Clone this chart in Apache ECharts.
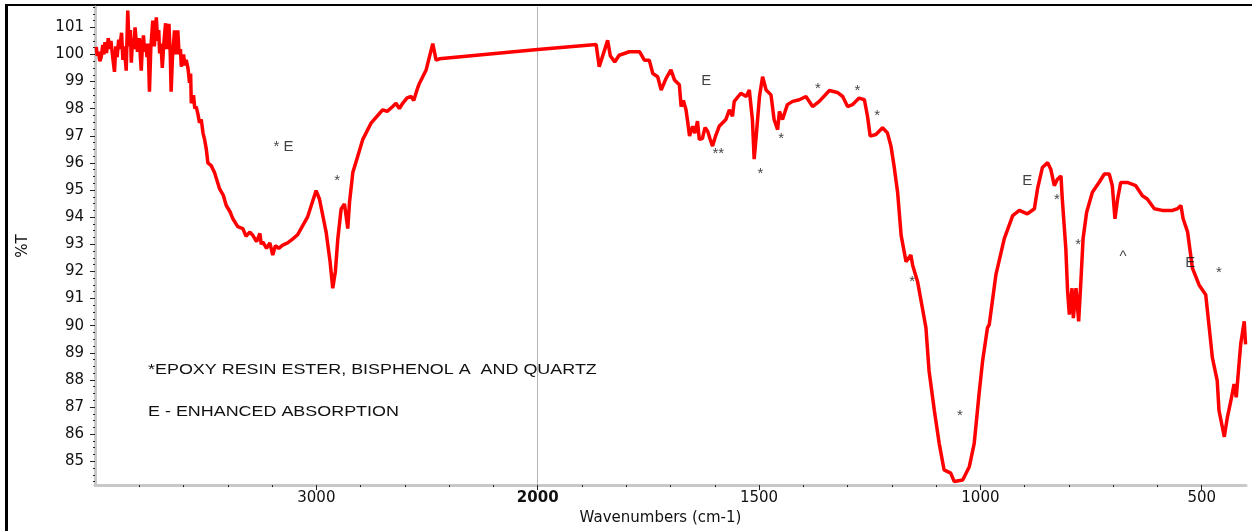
<!DOCTYPE html>
<html>
<head>
<meta charset="utf-8">
<script src="https://cdn.jsdelivr.net/npm/echarts@6/dist/echarts.min.js"></script>
<style>
html,body{margin:0;padding:0;background:#fff;}
#chart{width:1252px;height:531px;}
</style>
</head>
<body>
<div id="chart"></div>
<script>
// Wavenumbers (cm-1) and %T
const wavenumbers = [3994,3990,3985,3978,3972,3965,3960,3955,3948,3940,3934,3928,3920,3912,3906,3900,3893,3889,3880,3874,3868,3859,3855,3852,3846,3840,3836,3830,3825,3819,3814,3808,3800,3795,3791,3786,3781,3776,3770,3765,3760,3754,3748,3743,3739,3732,3727,3723,3717,3712,3708,3702,3696,3690,3684,3681,3675,3670,3666,3660,3656,3650,3645,3641,3634,3630,3626,3620,3614,3610,3600,3594,3588,3580,3573,3568,3565,3555,3549,3543,3535,3528,3520,3512,3505,3497,3490,3475,3460,3437,3420,3407,3390,3377,3355,3332,3318,3300,3287,3270,3255,3249,3242,3225,3210,3197,3185,3170,3152,3130,3106,3085,3061,3040,3023,3001,2986,2956,2938,2926,2914,2903,2888,2873,2858,2850,2835,2813,2790,2752,2700,2680,2655,2640,2625,2610,2590,2572,2560,2545,2534,2504,2474,2459,2444,2000,1868,1861,1842,1836,1826,1816,1793,1770,1759,1748,1740,1729,1721,1710,1699,1691,1680,1676,1671,1665,1661,1657,1650,1645,1639,1635,1628,1622,1616,1611,1605,1598,1590,1575,1567,1560,1556,1541,1529,1522,1515,1511,1507,1499,1492,1484,1473,1466,1458,1454,1447,1436,1424,1409,1394,1379,1364,1341,1323,1311,1300,1289,1274,1262,1255,1249,1236,1221,1210,1202,1195,1187,1179,1168,1157,1153,1142,1131,1123,1116,1104,1093,1082,1067,1059,1040,1025,1014,1003,995,984,980,965,946,927,912,894,878,871,860,848,841,833,826,818,815,807,803,799,793,790,784,778,773,768,760,747,732,720,709,702,696,690,683,668,649,634,623,607,589,566,555,547,542,532,521,506,491,483,476,465,461,449,442,434,427,422,417,412,404,401];
const transmittance = [100.28,99.95,100.1,99.75,99.9,100.35,100.0,100.45,100.05,100.6,100.2,100.5,99.9,99.36,100.3,99.9,100.55,100.2,100.8,99.8,100.3,99.4,100.7,101.62,100.3,100.9,99.7,100.6,100.2,101.0,100.5,100.1,100.6,99.9,99.4,100.3,100.7,100.1,100.4,99.9,100.4,98.63,100.2,100.8,101.25,100.3,100.9,101.37,100.5,100.9,100.04,100.4,99.5,100.3,100.9,101.15,100.2,100.6,101.13,100.0,98.63,99.9,100.4,100.89,100.0,100.4,100.89,100.0,100.2,99.55,100.0,99.6,99.8,99.5,98.95,99.3,98.2,98.5,98.0,98.08,97.8,97.48,97.6,97.1,96.87,96.5,96.0,95.9,95.65,95.04,94.8,94.43,94.2,93.94,93.65,93.58,93.3,93.45,93.33,93.1,93.4,93.0,93.09,92.85,93.05,92.6,92.95,92.85,92.97,93.05,93.2,93.35,93.7,94.0,94.43,94.98,94.67,93.46,92.36,91.38,92.0,93.2,94.3,94.49,93.58,94.56,95.66,96.25,96.87,97.48,97.96,97.9,98.08,98.2,98.0,98.2,98.4,98.45,98.3,98.7,98.94,99.43,100.4,99.79,99.84,100.18,100.37,99.55,100.52,99.95,99.72,99.97,100.1,100.1,99.79,99.79,99.3,99.18,98.69,99.12,99.43,99.06,98.88,98.08,98.3,97.96,97.5,96.99,97.35,97.1,97.54,96.87,96.9,97.3,97.17,96.9,96.62,97.0,97.35,97.6,97.96,97.72,98.27,98.57,98.45,98.69,97.6,96.14,96.87,98.45,99.18,98.69,98.51,97.6,97.23,97.9,97.6,98.15,98.27,98.33,98.45,98.08,98.27,98.67,98.6,98.45,98.08,98.15,98.39,98.33,97.72,96.99,97.05,97.3,97.11,96.62,95.89,94.92,93.33,92.36,92.6,92.23,91.63,90.65,89.92,88.34,86.87,85.65,84.68,84.56,84.25,84.31,84.8,85.65,87.48,88.7,89.92,90.04,91.87,93.21,94.06,94.25,94.12,94.31,95.04,95.83,96.01,95.77,95.16,95.4,95.52,94.67,92.84,91.26,90.41,91.38,90.28,91.38,90.16,91.63,93.21,94.18,94.92,95.28,95.59,95.59,95.16,93.94,94.67,95.28,95.28,95.16,94.79,94.67,94.31,94.25,94.25,94.31,94.43,93.94,93.46,92.12,91.5,91.14,89.92,88.82,87.97,86.87,85.9,86.63,87.24,87.85,87.36,88.34,89.31,90.16,89.31];

// X tick labels (wavenumbers) and y tick labels (%T)
const xLabelValues = [3000, 2000, 1500, 1000, 500];
const yLabelValues = [85,86,87,88,89,90,91,92,93,94,95,96,97,98,99,100,101];

// Peak annotations
const noteText = ['* E','*','E','**','*','*','*','*','*','*','*','E','*','*','^','E','*'];
const noteWn   = [3148,2906,1619,1592,1497,1450,1367,1278,1233,1154,1046,894,827,779,678,526,461];
const noteT    = [96.59,95.47,99.02,96.5,95.73,97.05,98.88,98.8,97.89,91.75,86.81,95.33,94.78,93.14,92.7,92.33,92.08];

// Legend notes
const legendLines = ['*EPOXY RESIN ESTER, BISPHENOL A  AND QUARTZ', 'E - ENHANCED ABSORPTION'];

// Axis ranges
const wnMax = 4000, wnMin = 400, breakWn = 2000;
const tMin = 84.12, tMax = 101.75;

// The spectrum scale is halved above 2000 cm-1
function toU(w){ return w > breakWn ? breakWn + (w - breakWn) / 2 : w; }
function fromU(u){ return u > breakWn ? breakWn + (u - breakWn) * 2 : u; }

const uMin = toU(wnMin), uMax = toU(wnMax);
const xMajor = xLabelValues.map(toU);
const xMinor = [];
for (let u = 500; u < uMax; u += 100) xMinor.push(u);
const yMinor = [];
for (let v = 84.25; v <= tMax + 1e-9; v += 0.25) yMinor.push(Math.round(v*100)/100);

const lineData = wavenumbers.map((w, i) => [toU(w), transmittance[i]]);
const noteData = noteText.map((t, i) => ({
  value: [toU(noteWn[i]), noteT[i]],
  name: t,
  label: { offset: (t === '*' || t === '**' || t === '^') ? [0, 4] : [0, 0] }
}));

const axisGray = '#c8c8c8';
const labelFont = { fontFamily: 'DejaVu Sans', fontSize: 15, color: '#111' };

const chart = echarts.init(document.getElementById('chart'), null, { renderer: 'canvas' });
chart.setOption({
  animation: false,
  backgroundColor: '#fff',
  grid: { left: 95, right: 6, top: 7, bottom: 42 },
  xAxis: [
    {
      type: 'value', min: uMin, max: uMax, inverse: true,
      name: 'Wavenumbers (cm-1)', nameLocation: 'middle', nameGap: 22,
      nameTextStyle: { fontFamily: 'DejaVu Sans', fontSize: 15, color: '#111', padding: [0, 20, 0, 0] },
      axisLine: { show: true, onZero: false, lineStyle: { color: axisGray, width: 3 } },
      axisTick: { show: true, customValues: xMajor, length: 5, lineStyle: { color: '#222', width: 1 } },
      axisLabel: {
        customValues: xMajor, margin: 6, ...labelFont,
        formatter: v => { const w = Math.round(fromU(v)); return w === breakWn ? '{b|' + w + '}' : String(w); },
        rich: { b: { fontFamily: 'DejaVu Sans', fontSize: 15, fontWeight: 'bold', color: '#111' } }
      },
      splitLine: { show: false }
    },
    {
      type: 'value', min: uMin, max: uMax, inverse: true, position: 'bottom',
      axisLine: { show: false },
      axisTick: { show: true, customValues: xMinor, length: 2, lineStyle: { color: '#222', width: 1 } },
      axisLabel: { show: false },
      splitLine: { show: false }
    }
  ],
  yAxis: [
    {
      type: 'value', min: tMin, max: tMax,
      name: '%T', nameLocation: 'middle', nameGap: 64, nameRotate: 90,
      nameTextStyle: { fontFamily: 'DejaVu Sans', fontSize: 15, color: '#111' },
      axisLine: { show: true, onZero: false, lineStyle: { color: axisGray, width: 3 } },
      axisTick: { show: true, customValues: yLabelValues, length: 5, lineStyle: { color: '#222', width: 1 } },
      axisLabel: { customValues: yLabelValues, margin: 11, ...labelFont },
      splitLine: { show: false }
    },
    {
      type: 'value', min: tMin, max: tMax, position: 'left',
      axisLine: { show: false },
      axisTick: { show: true, customValues: yMinor, length: 2, lineStyle: { color: '#222', width: 1 } },
      axisLabel: { show: false },
      splitLine: { show: false }
    }
  ],
  series: [
    {
      type: 'line', data: lineData, xAxisIndex: 0, yAxisIndex: 0,
      showSymbol: false, symbol: 'none',
      lineStyle: { color: '#ff0000', width: 3.5 },
      z: 5,
      markLine: {
        silent: true, symbol: 'none', animation: false,
        label: { show: false },
        lineStyle: { color: '#b4b4b4', width: 1, type: 'solid' },
        data: [{ xAxis: toU(breakWn) }]
      }
    },
    {
      type: 'scatter', data: noteData, xAxisIndex: 0, yAxisIndex: 0,
      symbolSize: 0, z: 6, silent: true,
      label: {
        show: true, position: 'inside', formatter: p => p.name,
        fontFamily: 'Liberation Sans', fontSize: 15, color: '#111'
      }
    }
  ],
  graphic: [
    { type: 'rect', shape: { x: 6, y: 4, width: 1246, height: 2 }, style: { fill: '#000' }, silent: true },
    { type: 'rect', shape: { x: 5, y: 4, width: 3, height: 527 }, style: { fill: '#000' }, silent: true },
    { type: 'text', x: 148, y: 370, scaleX: 1.28, silent: true,
      style: { text: legendLines[0], fontFamily: 'Liberation Sans', fontSize: 14, fill: '#111', verticalAlign: 'middle' } },
    { type: 'text', x: 148, y: 412, scaleX: 1.28, silent: true,
      style: { text: legendLines[1], fontFamily: 'Liberation Sans', fontSize: 14, fill: '#111', verticalAlign: 'middle' } }
  ]
});
</script>
</body>
</html>
